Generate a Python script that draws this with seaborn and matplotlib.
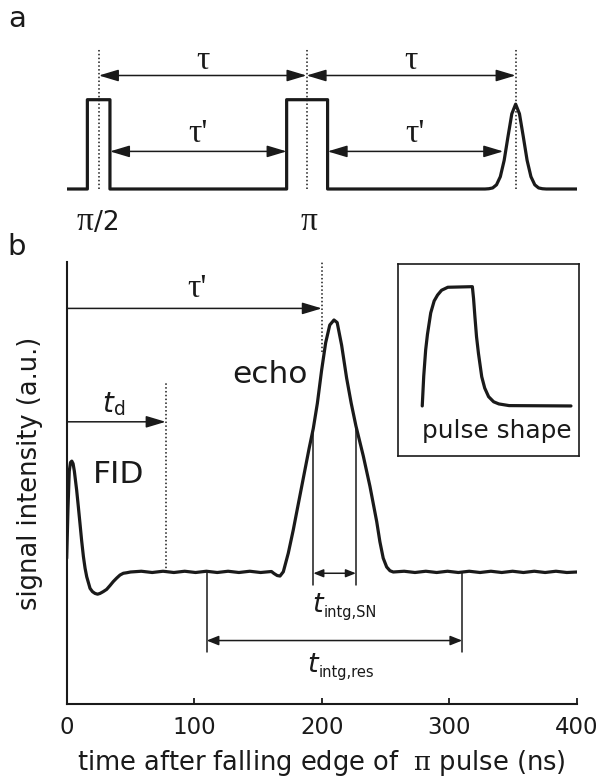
import numpy as np
import pandas as pd
import matplotlib
matplotlib.use("Agg")
import matplotlib.pyplot as plt
import seaborn as sns

sns.set_theme(style="white")
plt.rcParams["font.family"] = ["DejaVu Sans"]
plt.rcParams["mathtext.fontset"] = "dejavusans"

INK = "#1a1a1a"

# ---------------- data: panel a (pulse sequence) ----------------
seq_t = [0, 16.2, 16.2, 33.9, 33.9, 172.4, 172.4, 204.5, 204.5,
         327.9, 330.9, 333.9, 336.9, 339.9, 342.9, 345.9, 348.9, 351.9,
         354.9, 357.9, 360.9, 363.9, 366.9, 369.9, 372.9, 375.9, 400]
seq_y = [0, 0, 1, 1, 0, 0, 1, 1, 0,
         0, 0.003, 0.012, 0.047, 0.138, 0.320, 0.586, 0.842, 0.95,
         0.842, 0.586, 0.320, 0.138, 0.047, 0.012, 0.003, 0, 0]
pulse_centers = [25.2, 188.0, 351.9]       # dotted marker lines
tau_spans = [(25.2, 188.0), (188.0, 351.9)]
taup_spans = [(33.9, 172.4), (204.5, 342.2)]

# ---------------- data: panel b (signal) ----------------
sig_t = [0, 1, 2, 3, 4, 5, 6, 7.8, 9.1, 10.4, 11.7, 13.1, 14.4, 15.7, 18.3, 20.2,
         22.2, 24.2, 26.1, 28.6, 31.3, 33.9, 36.5, 39.2, 41.8, 44.4, 47,
         50, 58.5, 67, 75.5, 84, 92.5, 101, 109.5, 118, 126.5, 135, 143.5, 152,
         160.5, 162.5, 165, 167.2, 169.8,
         173.7, 177.6, 180, 185, 190, 193.3, 196.5, 199.8, 203, 206.2, 209.5,
         212, 215.5, 219.4, 223, 226.7, 232.5, 237.7, 243, 245.5, 248.1, 250.8,
         253.4, 256, 264.5, 273, 281.5, 290, 298.5, 307, 315.5, 324, 332.5, 341,
         349.5, 358, 366.5, 375, 383.5, 392, 400]
sig_y = [0.054, 0.25, 0.40, 0.435, 0.44, 0.43, 0.40, 0.325, 0.26, 0.193, 0.125, 0.061,
         0.015, -0.019, -0.065, -0.078, -0.085, -0.088, -0.085, -0.078, -0.069,
         -0.054, -0.038, -0.024, -0.012, -0.005, -0.003,
         0.0, 0.003, -0.002, 0.003, -0.002, 0.003, -0.002, 0.003, -0.002, 0.003,
         -0.002, 0.003, -0.002,
         0.002, -0.006, -0.014, -0.016, 0.001,
         0.075, 0.167, 0.23, 0.36, 0.49, 0.57, 0.67, 0.80, 0.91, 0.98, 1.0,
         0.99, 0.90, 0.77, 0.67, 0.58, 0.46, 0.34, 0.20, 0.12, 0.055, 0.02,
         0.005, 0.0, 0.003, -0.002, 0.003, -0.002, 0.003, -0.002, 0.003, -0.002,
         0.003, -0.002, 0.003, -0.002, 0.003, -0.002, 0.003, -0.002, 0.0]
x_ticks = [0, 100, 200, 300, 400]
tau_prime_t = 200.0
t_d = 77.6
sn_window = (193.3, 226.7)
res_window = (109.7, 310.0)

# ---------------- data: inset (pulse shape) ----------------
shape_u = [0, 1, 2.3, 3.5, 5.7, 8, 10.3, 13, 17.2, 33.7, 34.5, 35.4, 36.5, 37.8,
           40, 42, 44.6, 48, 51.5, 58.4, 100]
shape_a = [0, 0.25, 0.47, 0.60, 0.78, 0.88, 0.93, 0.97, 0.995, 1.0, 0.9, 0.75, 0.58,
           0.44, 0.245, 0.15, 0.078, 0.035, 0.017, 0.003, 0]

W, H = 601, 780
fig = plt.figure(figsize=(W / 100, H / 100), dpi=100)
fig.patch.set_facecolor("white")


def px_axes(l, t, r, b):
    return [l / W, 1 - b / H, (r - l) / W, (b - t) / H]


def arrow(ax, x0, x1, y, style, ms, lw=1.1):
    ax.annotate("", xy=(x1, y), xytext=(x0, y),
                arrowprops=dict(arrowstyle=style, color=INK, lw=lw,
                                mutation_scale=ms, shrinkA=0, shrinkB=0))


def sub_label(ax, x_split, y_base, main, sub, size_main, size_sub, dy):
    ax.text(x_split, y_base, main, ha="right", va="baseline", fontsize=size_main,
            style="italic", color=INK)
    ax.text(x_split + 0.8, y_base - dy, sub, ha="left", va="baseline",
            fontsize=size_sub, color=INK)


SERIF = ["Liberation Serif", "DejaVu Serif"]

# ================= panel a =================
A0, AS = 189.0, 89.3        # baseline pixel row and pulse height (px)
axa = fig.add_axes(px_axes(66.7, 20, 577, 240))
axa.set_xlim(0, 400)
axa.set_ylim((A0 - 240) / AS, (A0 - 20) / AS)
axa.axis("off")
sns.lineplot(x=seq_t, y=seq_y, ax=axa, color=INK, lw=2.3, estimator=None,
             sort=False, legend=False)
for c in pulse_centers:
    axa.plot([c, c], [0, 1.579], color=INK, lw=1.1, ls=(0, (1, 1.5)))
big = "-|>,head_length=0.6,head_width=0.18"
dbl = "<|-|>,head_length=0.6,head_width=0.18"
for (a0, a1) in tau_spans:
    arrow(axa, a0, a1, 1.271, dbl, 20)
    axa.text((a0 + a1) / 2, 1.344, "τ", ha="center", va="baseline",
             fontsize=24, family=SERIF, color=INK)
for (a0, a1) in taup_spans:
    arrow(axa, a0, a1, 0.421, dbl, 20)
    axa.text((a0 + a1) / 2, 0.529, "τ'", ha="center", va="baseline",
             fontsize=24, family=SERIF, color=INK)
axa.text(21.3, -0.459, "π", ha="right", va="baseline", fontsize=24,
         family=SERIF, color=INK)
axa.text(21.3, -0.459, "/2", ha="left", va="baseline", fontsize=19, color=INK)
axa.text(pulse_centers[1] + 1.5, -0.459, "π", ha="center", va="baseline",
         fontsize=24, family=SERIF, color=INK)

fig.text(17 / W, 1 - 26.8 / H, "a", fontsize=21, ha="center", va="baseline",
         color=INK)
fig.text(16.7 / W, 1 - 255 / H, "b", fontsize=21, ha="center", va="baseline",
         color=INK)

# ================= panel b =================
axb = fig.add_axes(px_axes(66.7, 262, 577, 704))
y_lo, y_hi = (572 - 704) / 252, (572 - 262) / 252
axb.set_xlim(0, 400)
axb.set_ylim(y_lo, y_hi)
df = pd.DataFrame({"t": sig_t, "s": sig_y})
sns.lineplot(data=df, x="t", y="s", ax=axb, color=INK, lw=2.3, estimator=None,
             sort=False, legend=False)
for s in ["top", "right"]:
    axb.spines[s].set_visible(False)
for s in ["left", "bottom"]:
    axb.spines[s].set_color(INK)
    axb.spines[s].set_linewidth(1.5)
axb.set_xticks(x_ticks)
axb.set_yticks([])
axb.tick_params(axis="x", direction="in", length=4, width=1.3, colors=INK,
                labelsize=16.5, pad=9, bottom=True)
axb.set_xlabel("time after falling edge of  $\\mathrm{\\pi}$ pulse (ns)",
               fontsize=18.5, color=INK, math_fontfamily="dejavuserif",
               va="baseline")
axb.xaxis.set_label_coords(0.5, (704 - 770) / 442)
axb.set_ylabel("signal intensity (a.u.)", fontsize=18.5, color=INK)
axb.yaxis.set_label_coords(-0.046, (704 - 473) / 442)

# dotted markers
axb.plot([tau_prime_t, tau_prime_t], [0.873, y_hi], color=INK, lw=1.1,
         ls=(0, (1, 1.5)))
axb.plot([t_d, t_d], [0, 0.755], color=INK, lw=1.1, ls=(0, (1, 1.5)))
arrow(axb, 0, tau_prime_t, 1.046, big, 20)
arrow(axb, 0, t_d, 0.596, big, 20)
axb.text(101.9, 1.092, "τ'", ha="center", va="baseline", fontsize=24,
         family=SERIF, color=INK)
sub_label(axb, 36.6, 0.636, "t", "d", 20, 13.5, 0.012)
axb.text(40.5, 0.354, "FID", ha="center", va="baseline", fontsize=22.5,
         color=INK)
axb.text(159.3, 0.749, "echo", ha="center", va="baseline", fontsize=22.5,
         color=INK)

# integration windows
axb.plot([sn_window[0]] * 2, [0.57, -0.052], color=INK, lw=1.1)
axb.plot([sn_window[1]] * 2, [0.577, -0.052], color=INK, lw=1.1)
arrow(axb, sn_window[0], sn_window[1], -0.005,
      "<|-|>,head_length=0.6,head_width=0.24", 10)
sub_label(axb, 200.9, -0.158, "t", "intg,SN", 19.5, 10.5, 0.02)
axb.plot([res_window[0]] * 2, [0, -0.317], color=INK, lw=1.1)
axb.plot([res_window[1]] * 2, [0, -0.317], color=INK, lw=1.1)
arrow(axb, res_window[0], res_window[1], -0.272,
      "<|-|>,head_length=0.6,head_width=0.24", 12)
sub_label(axb, 196.6, -0.396, "t", "intg,res", 19.5, 10.5, 0.02)

# ================= inset =================
axi = fig.add_axes(px_axes(398.3, 264, 579, 455.7))
axi.set_xlim(-16.1, 105.4)
axi.set_ylim(-0.417, 1.19)
sns.lineplot(x=shape_u, y=shape_a, ax=axi, color=INK, lw=2.3, estimator=None,
             sort=False, legend=False)
axi.set_xticks([])
axi.set_yticks([])
axi.set_xlabel("")
axi.set_ylabel("")
for s in axi.spines.values():
    s.set_visible(True)
    s.set_color(INK)
    s.set_linewidth(1.2)
axi.text(50.3, -0.27, "pulse shape", ha="center", va="baseline", fontsize=17.8,
         color=INK)

fig.savefig("out.png", dpi=100, facecolor="white")
